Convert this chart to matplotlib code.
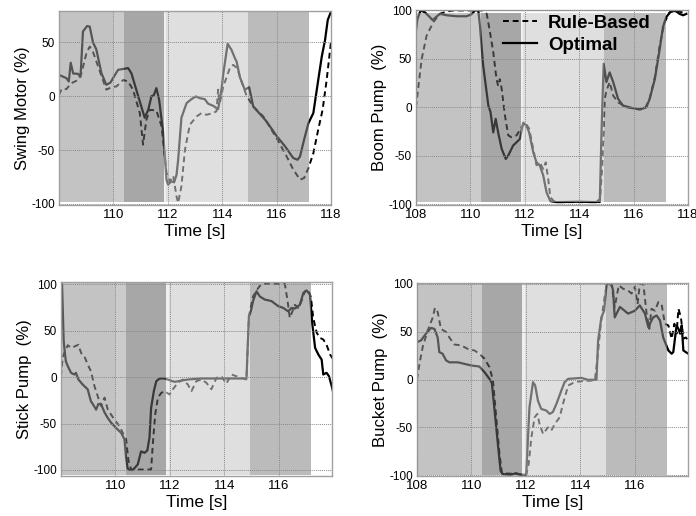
import matplotlib
matplotlib.use("Agg")
import matplotlib.pyplot as plt

plt.rcParams['font.family'] = ['Liberation Sans', 'DejaVu Sans']
plt.rcParams['axes.unicode_minus'] = False

# ---------------- data ----------------
# Swing Motor
sw_t_opt = [108.00, 108.27, 108.36, 108.43, 108.52, 108.70, 108.79, 108.88, 109.03, 109.13, 109.25, 109.37,
            109.56, 109.74, 109.89, 110.17, 110.54, 110.66, 110.97, 111.15, 111.28, 111.40, 111.48, 111.58,
            111.68, 111.83, 111.95, 112.01, 112.13, 112.23, 112.32, 112.38, 112.50, 112.69, 112.87, 113.03,
            113.18, 113.36, 113.48, 113.67, 113.85, 113.91, 113.98, 114.04, 114.20, 114.34, 114.47, 114.53,
            114.65, 114.83, 114.99, 115.14, 115.51, 115.63, 116.00, 116.31, 116.61, 116.77, 116.86, 117.01,
            117.17, 117.35, 117.53, 117.66, 117.78, 117.88, 118.00]
sw_opt = [19.7, 16.7, 13.6, 31.0, 21.0, 20.7, 18.0, 60.0, 65.0, 64.5, 49.7, 43.5,
          21.3, 10.5, 12.6, 24.4, 26.0, 21.3, -5.0, -20.0, -12.7, 0.0, 0.6, 7.4,
          -3.4, -34.0, -77.5, -82.0, -79.0, -80.0, -73.0, -59.0, -20.0, -6.5, -2.8, -0.3,
          -1.9, -2.8, -7.0, -9.0, -12.0, -3.4, 7.4, 21.0, 48.5, 43.0, 35.0, 32.0,
          17.6, 5.9, 8.3, -9.6, -20.0, -23.5, -37.0, -46.6, -57.4, -59.0, -56.0, -40.4,
          -25.0, -15.7, 15.0, 36.7, 52.0, 70.7, 78.4]
sw_t_rule = [108.00, 108.09, 108.27, 108.45, 108.70, 108.82, 109.01, 109.13, 109.25, 109.50, 109.74, 109.93,
             110.11, 110.36, 110.54, 110.72, 110.97, 111.09, 111.21, 111.34, 111.58, 111.77, 111.95, 112.07,
             112.20, 112.32, 112.38, 112.50, 112.63, 112.81, 113.06, 113.24, 113.42, 113.67, 113.79, 113.85,
             113.91, 114.04, 114.28, 114.40, 114.55, 114.71, 114.90, 115.14, 115.51, 116.00, 116.37, 116.61,
             116.86, 117.01, 117.17, 117.35, 117.53, 117.69, 117.84, 118.00]
sw_rule = [1.0, 6.5, 6.5, 12.0, 15.0, 21.0, 40.0, 46.0, 41.0, 23.0, 6.0, 8.3,
           9.0, 15.0, 13.6, 6.0, -15.7, -45.0, -22.0, -12.7, -13.3, -28.0, -71.0, -79.0,
           -74.0, -93.0, -99.0, -83.6, -49.7, -26.5, -18.8, -15.7, -17.3, -15.7, -14.0, 6.0,
           -6.5, 9.0, 26.0, 29.0, 26.0, 13.6, 0.0, -9.6, -18.8, -39.0, -56.0, -68.0,
           -77.5, -76.0, -66.7, -53.0, -31.0, -12.7, 15.0, 50.6]

# Boom Pump
bm_t_opt = [108.00, 108.05, 108.17, 108.33, 108.51, 108.61, 108.73, 108.88, 109.13, 109.49, 109.86, 110.04,
            110.17, 110.29, 110.35, 110.47, 110.66, 110.74, 110.84, 110.93, 111.02, 111.15, 111.30, 111.39,
            111.57, 111.82, 111.94, 112.06, 112.16, 112.31, 112.43, 112.55, 112.68, 112.80, 112.94, 113.17,
            114.02, 114.63, 114.76, 114.82, 114.90, 115.00, 115.12, 115.25, 115.43, 115.61, 115.98, 116.23,
            116.47, 116.59, 116.78, 116.96, 117.08, 117.20, 117.39, 117.57, 117.69, 117.82, 117.94]
bm_opt = [79.0, 91.0, 100.0, 98.0, 93.0, 90.0, 93.0, 96.5, 95.0, 94.0, 94.0, 96.0,
          100.0, 100.0, 84.5, 43.0, 1.7, -5.0, -26.0, -12.0, -26.0, -43.0, -53.4, -50.0,
          -39.6, -32.8, -16.0, -19.0, -26.0, -46.5, -57.0, -60.0, -70.7, -88.0, -97.0, -98.0,
          -97.6, -98.0, -95.0, -26.0, 45.0, 26.0, 36.0, 26.0, 8.6, 1.7, -1.0, -2.4,
          0.0, 8.6, 29.0, 60.0, 83.0, 93.0, 100.0, 99.0, 96.5, 95.0, 96.5]
bm_t_rule = [108.00, 108.09, 108.21, 108.39, 108.64, 108.88, 109.13, 109.37, 110.47, 110.60, 110.72, 110.84,
             110.96, 111.02, 111.08, 111.15, 111.27, 111.39, 111.51, 111.70, 111.88, 112.00, 112.16, 112.31,
             112.43, 112.55, 112.68, 112.77, 112.86, 112.94, 113.10, 114.76, 114.85, 114.94, 115.00, 115.12,
             115.25, 115.43, 115.74, 116.10, 116.41, 116.59, 116.78, 116.96, 117.14, 117.33, 117.57, 117.82,
             117.94]
bm_rule = [0.0, 22.0, 50.0, 74.0, 88.0, 96.5, 99.0, 100.0, 100.0, 96.5, 77.6, 57.0,
           29.0, 22.0, 29.0, 19.0, -8.6, -29.0, -31.0, -29.0, -20.7, -15.5, -22.0, -43.0,
           -60.0, -57.0, -64.0, -57.0, -74.0, -93.0, -98.0, -98.0, -60.0, 8.6, 17.0, 26.0,
           12.0, 5.0, 0.0, -1.7, -1.7, 8.6, 31.0, 64.0, 88.0, 98.0, 100.0, 97.6,
           96.5]

# Stick Pump
st_t_opt = [108.00, 108.04, 108.10, 108.15, 108.18, 108.25, 108.37, 108.49, 108.55, 108.64, 108.80, 108.98,
            109.10, 109.17, 109.29, 109.37, 109.47, 109.60, 109.72, 109.84, 110.02, 110.21, 110.33, 110.39,
            110.45, 110.52, 110.64, 110.82, 110.94, 111.07, 111.17, 111.25, 111.31, 111.41, 111.50, 111.62,
            111.80, 112.17, 112.66, 113.15, 113.77, 114.38, 114.81, 114.90, 114.97, 115.05, 115.18, 115.30,
            115.48, 115.73, 115.98, 116.16, 116.34, 116.47, 116.59, 116.77, 116.90, 117.02, 117.14, 117.23,
            117.33, 117.45, 117.57, 117.63, 117.75, 117.84, 117.94, 118.00]
st_opt = [101.6, 100.0, 39.0, 24.4, 17.0, 12.0, 4.7, 2.9, 4.7, -2.5, -8.0, -13.0,
          -26.0, -29.0, -35.0, -29.0, -29.0, -38.0, -44.0, -49.0, -54.6, -60.0, -67.0, -87.0,
          -98.4, -100.0, -100.0, -94.0, -80.0, -81.5, -79.0, -65.0, -33.0, -15.0, -4.3, -1.4,
          -1.4, -5.0, -2.5, -1.4, -1.4, -1.4, -1.4, 65.7, 71.0, 82.0, 92.6, 87.0,
          83.7, 82.0, 76.5, 74.7, 71.0, 74.7, 74.0, 78.0, 91.0, 93.4, 89.0, 56.7,
          31.6, 24.4, 19.0, 2.9, 4.7, 1.0, -9.7, -17.0]
st_t_rule = [108.00, 108.06, 108.12, 108.25, 108.37, 108.49, 108.64, 108.74, 108.86, 108.98, 109.10, 109.23,
             109.35, 109.47, 109.60, 109.72, 109.96, 110.15, 110.27, 110.39, 110.48, 110.58, 111.31, 111.37,
             111.46, 111.56, 111.68, 111.80, 111.99, 112.11, 112.29, 112.48, 112.66, 112.79, 112.97, 113.15,
             113.34, 113.52, 113.71, 113.89, 114.07, 114.26, 114.44, 114.63, 114.81, 114.90, 115.05, 115.24,
             115.36, 116.22, 116.32, 116.40, 116.47, 116.59, 116.71, 116.83, 116.96, 117.08, 117.18, 117.26,
             117.39, 117.51, 117.63, 117.75, 117.88, 118.00]
st_rule = [1.0, 21.0, 26.0, 34.5, 31.6, 33.0, 35.0, 26.0, 22.6, 13.6, 6.5, -9.7,
           -20.5, -31.0, -22.0, -35.0, -45.6, -52.8, -60.0, -67.0, -90.5, -99.5, -99.5, -72.5,
           -40.0, -22.0, -17.0, -15.0, -18.7, -13.0, -6.0, -2.5, -8.0, -15.0, -4.3, -2.5,
           -6.0, -13.0, -0.7, 1.0, -7.0, 2.9, 1.0, -0.7, -2.5, 65.7, 87.0, 96.0,
           100.5, 100.5, 82.0, 64.0, 69.0, 78.0, 74.7, 82.0, 92.6, 94.4, 85.5, 64.0,
           47.8, 42.4, 40.6, 35.0, 24.4, 19.0]

# Bucket Pump
bk_t_opt = [108.00, 108.15, 108.33, 108.52, 108.64, 108.76, 108.82, 108.94, 109.07, 109.19, 109.50, 109.74,
            109.99, 110.29, 110.48, 110.66, 110.75, 110.85, 110.97, 111.07, 111.15, 111.46, 111.64, 111.77,
            112.01, 112.07, 112.13, 112.26, 112.34, 112.44, 112.56, 112.75, 112.87, 112.99, 113.12, 113.30,
            113.42, 113.55, 114.04, 114.28, 114.59, 114.65, 114.77, 114.87, 114.96, 115.14, 115.20, 115.26,
            115.45, 115.75, 116.00, 116.18, 116.37, 116.49, 116.67, 116.80, 116.92, 117.04, 117.23, 117.35,
            117.41, 117.53, 117.60, 117.66, 117.72, 117.78, 117.96]
bk_opt = [39.0, 41.0, 48.0, 54.0, 53.0, 44.0, 28.7, 27.0, 20.0, 18.0, 18.0, 16.4,
          14.7, 13.6, 7.7, 0.7, -3.8, -32.5, -67.5, -95.5, -99.0, -99.6, -98.0, -99.6,
          -99.6, -64.0, -29.0, -2.8, -6.3, -22.0, -30.8, -32.5, -36.0, -34.0, -25.5, -11.5,
          -2.8, 0.7, 1.7, -0.3, -0.3, 41.0, 65.0, 72.0, 100.0, 100.0, 93.0, 65.0,
          76.0, 69.0, 72.0, 77.6, 69.0, 55.0, 65.0, 67.0, 62.0, 44.0, 30.4, 27.0,
          28.7, 56.6, 53.0, 48.0, 56.6, 30.4, 27.0]
bk_t_rule = [108.00, 108.09, 108.21, 108.39, 108.58, 108.66, 108.76, 108.88, 109.07, 109.19, 109.37, 109.62,
             109.87, 110.11, 110.29, 110.48, 110.66, 110.79, 110.91, 111.03, 111.12, 112.01, 112.10, 112.20,
             112.32, 112.42, 112.50, 112.63, 112.81, 112.93, 113.06, 113.24, 113.36, 113.55, 113.79, 114.04,
             114.53, 114.63, 114.75, 114.87, 114.96, 115.14, 115.26, 115.41, 115.57, 115.75, 115.88, 116.00,
             116.10, 116.18, 116.31, 116.43, 116.53, 116.61, 116.74, 116.86, 116.98, 117.10, 117.23, 117.35,
             117.45, 117.53, 117.60, 117.69, 117.78, 117.87, 117.96]
bk_rule = [0.0, 16.4, 34.0, 51.0, 65.0, 75.0, 70.6, 53.0, 49.7, 44.0, 36.7, 35.7,
           32.0, 30.4, 27.0, 21.7, 13.0, -1.0, -39.5, -78.0, -98.0, -99.6, -88.5, -60.5,
           -39.5, -36.0, -46.5, -57.0, -50.0, -53.5, -46.5, -39.5, -25.5, -6.3, -2.8, -1.7,
           -1.0, 23.4, 58.4, 83.0, 98.6, 100.0, 76.0, 98.6, 95.0, 93.0, 90.0, 97.0,
           79.0, 100.0, 100.0, 69.0, 53.0, 74.0, 72.0, 81.0, 79.0, 58.4, 56.6, 42.7,
           58.4, 48.0, 74.0, 65.0, 42.7, 44.0, 41.0]

# phase intervals (time, s)
phase_start = [108.0, 110.0, 110.4, 111.87, 111.95, 114.93]
phase_end = [110.0, 110.4, 111.87, 111.95, 114.93, 117.18]
phase_color = ['#979797', '#a4a4a4', '#646464', '#e3e3e3', '#c8c8c8', '#888888']

panels = [
    dict(name='Swing Motor (%)', t_opt=sw_t_opt, opt=sw_opt, t_rule=sw_t_rule, rule=sw_rule,
         pos=[0.0848, 0.6027, 0.3908, 0.376], ylim=(-101, 79), shade=(-98, 77.8),
         xticks=[110, 112, 114, 116, 118], yticks=[-100, -50, 0, 50], xlim=(108, 118)),
    dict(name='Boom Pump  (%)', t_opt=bm_t_opt, opt=bm_opt, t_rule=bm_t_rule, rule=bm_rule,
         pos=[0.5977, 0.6027, 0.3908, 0.378], ylim=(-101, 100.5), shade=(-98, 97.5),
         xticks=[108, 110, 112, 114, 116, 118], yticks=[-100, -50, 0, 50, 100], xlim=(108, 118)),
    dict(name='Stick Pump  (%)', t_opt=st_t_opt, opt=st_opt, t_rule=st_t_rule, rule=st_rule,
         pos=[0.0876, 0.0775, 0.3894, 0.376], ylim=(-106.5, 102.6), shade=(-105, 101.5),
         xticks=[110, 112, 114, 116], yticks=[-100, -50, 0, 50, 100], xlim=(108, 117.95)),
    dict(name='Bucket Pump  (%)', t_opt=bk_t_opt, opt=bk_opt, t_rule=bk_t_rule, rule=bk_rule,
         pos=[0.5991, 0.0775, 0.3894, 0.374], ylim=(-101, 101), shade=(-100, 100.5),
         xticks=[108, 110, 112, 114, 116], yticks=[-100, -50, 0, 50, 100], xlim=(108, 117.95)),
]

fig = plt.figure(figsize=(6.96, 5.16), dpi=100)
OVER_ALPHA = 0.57

for i, p in enumerate(panels):
    ax = fig.add_axes(p['pos'])
    l1, = ax.plot(p['t_rule'], p['rule'], color='black', lw=1.4, ls=(0, (3.0, 2.0)), zorder=2,
                  label='Rule-Based')
    l2, = ax.plot(p['t_opt'], p['opt'], color='black', lw=1.6, zorder=2.05, label='Optimal')
    y0, y1 = p['shade']
    for xs, xe, c in zip(phase_start, phase_end, phase_color):
        ax.fill_between([xs, xe], [y0, y0], [y1, y1], color=c, alpha=OVER_ALPHA, lw=0, zorder=2.2)
    ax.set_axisbelow(False)
    ax.grid(True, color='#8a8a8a', ls=(0, (1, 1)), lw=0.7)
    ax.set_xticks(p['xticks'])
    ax.set_yticks(p['yticks'])
    ax.set_xlim(*p['xlim'])
    ax.set_ylim(*p['ylim'])
    ax.tick_params(axis='x', length=0, labelsize=9.5, pad=3, colors='black')
    ax.tick_params(axis='y', length=0, labelsize=8.5, pad=3, colors='black')
    for s in ax.spines.values():
        s.set_color('#a0a0a0')
        s.set_linewidth(1.0)
    ax.set_xlabel('Time [s]', fontsize=12.5, labelpad=2)
    ax.set_ylabel(p['name'], fontsize=12, labelpad=1)
    if i == 1:
        leg = ax.legend(handles=[l1, l2], loc='upper left', bbox_to_anchor=(0.32, 0.975),
                        frameon=False, prop={'weight': 'bold', 'size': 13.5}, handlelength=1.8,
                        handletextpad=0.6, borderpad=0, borderaxespad=0, labelspacing=0.25)

fig.savefig('out.png', dpi=100)
